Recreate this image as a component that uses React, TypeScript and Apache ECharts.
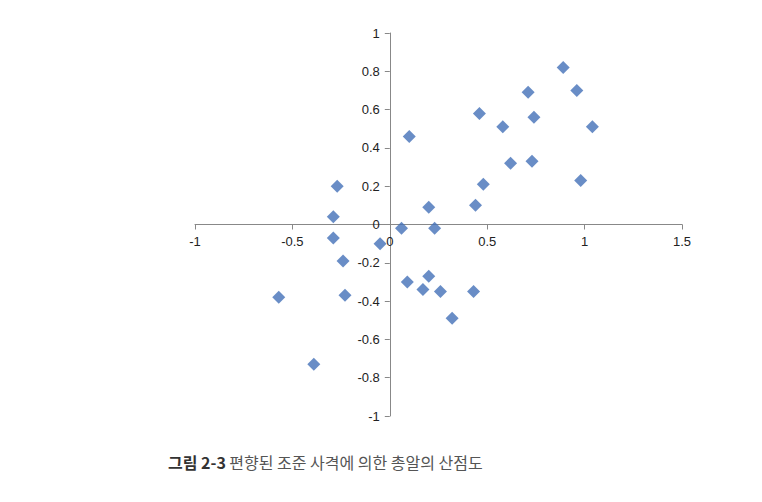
import { useEffect, useRef } from "react";
import * as echarts from "echarts";

const xValues = [0.89, 0.71, 0.96, 0.46, 0.58, 0.74, 1.04, 0.1, 0.62, 0.73, 0.98, 0.48, -0.27, 0.2, 0.44, -0.29, 0.06, 0.23, -0.29, -0.05, -0.24, -0.57, -0.23, 0.09, 0.2, 0.17, 0.26, 0.43, 0.32, -0.39];
const yValues = [0.82, 0.69, 0.7, 0.58, 0.51, 0.56, 0.51, 0.46, 0.32, 0.33, 0.23, 0.21, 0.2, 0.09, 0.1, 0.04, -0.02, -0.02, -0.07, -0.1, -0.19, -0.38, -0.37, -0.3, -0.27, -0.34, -0.35, -0.35, -0.49, -0.73];

const GRID = { left: 195, right: 80, top: 33, bottom: 86 };
const gridW = 762 - GRID.left - GRID.right;
const gridH = 502 - GRID.top - GRID.bottom;

export default function App() {
  const ref = useRef<HTMLDivElement | null>(null);
  useEffect(() => {
    document.body.style.margin = "0";
    if (!ref.current) return;
    const chart = echarts.init(ref.current, undefined, { renderer: "svg" });
    const label = { color: "#222", fontSize: 13, fontFamily: "Arial, Liberation Sans", margin: 10 };
    chart.setOption({
      animation: false,
      backgroundColor: "#fff",
      grid: GRID,
      xAxis: {
        type: "value", min: -1, max: 1.5, interval: 0.5,
        offset: -gridH / 2,
        axisLine: { onZero: false, lineStyle: { color: "#888" } },
        axisTick: { show: true, length: 5, lineStyle: { color: "#888" } },
        axisLabel: label,
        splitLine: { show: false },
      },
      yAxis: {
        type: "value", min: -1, max: 1, interval: 0.2,
        offset: -gridW / 2.5,
        axisLine: { onZero: false, lineStyle: { color: "#888" } },
        axisTick: { show: true, length: 5, lineStyle: { color: "#888" } },
        axisLabel: { ...label, formatter: (v: number) => String(Math.round(v * 10) / 10) },
        splitLine: { show: false },
      },
      series: [{
        type: "scatter",
        symbol: "diamond",
        symbolSize: 13,
        itemStyle: { color: "#4471b8" },
        data: xValues.map((x, i) => [x, yValues[i]]),
      }],
      graphic: [{
        type: "text", left: 168, top: 454,
        style: {
          rich: {
            a: { fontSize: 16, fontWeight: "bold", fill: "#333", fontFamily: "Noto Sans CJK KR" },
            b: { fontSize: 16, fill: "#555", fontFamily: "Noto Sans CJK KR" },
          },
          text: "{a|그림 2-3} {b|편향된 조준 사격에 의한 총알의 산점도}",
        },
      }],
    });
    return () => chart.dispose();
  }, []);
  return <div ref={ref} style={{ width: 762, height: 502 }} />;
}
